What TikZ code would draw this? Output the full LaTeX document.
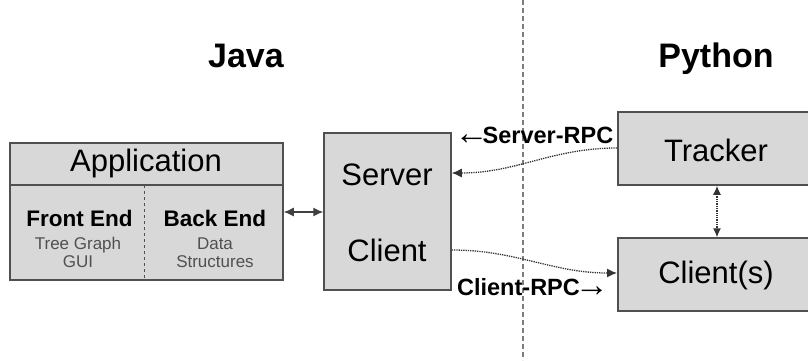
\documentclass[tikz,border=0pt]{standalone}
\usepackage{fontspec}
\setmainfont{Liberation Sans}
\usepackage{xcolor}
\usepackage{tikz}
\usetikzlibrary{arrows.meta}
\definecolor{boxfill}{RGB}{216,216,216}
\definecolor{boxline}{RGB}{80,80,80}
\definecolor{subtext}{RGB}{80,80,80}
\definecolor{divider}{RGB}{125,125,125}
\newcommand{\bigarrow}[1]{{\mdseries\fontsize{34}{34}\selectfont\raisebox{-1pt}{#1}}}

\begin{document}
\begin{tikzpicture}[x=1pt,y=1pt,
    box/.style={draw=boxline,fill=boxfill,line width=1.5pt,inner sep=0pt},
    bigtext/.style={font=\fontsize{31}{34}\selectfont},
    boldtext/.style={font=\bfseries\fontsize{22.5}{26}\selectfont},
    smalltext/.style={font=\fontsize{17}{19}\selectfont,text=subtext},
    rpctext/.style={font=\bfseries\fontsize{23.5}{26}\selectfont},
    titletext/.style={font=\bfseries\fontsize{34}{38}\selectfont,anchor=base},
    tip/.style={-{Latex[length=10pt,width=9pt]}},
    rpc/.style={densely dotted,line width=1.3pt,draw=black!80}]
		\tikzstyle{every node}+=[inner sep=0pt]
		\clip (0,0) rectangle (808,-360);
		\draw [divider,line width=1.4pt,dash pattern=on 5pt off 3pt] (523,0) -- (523,-360);
		\node [titletext] (java) at (246,-67) {Java};
		\node [titletext] (python) at (716,-67) {Python};
		\node [box,minimum width=273pt,minimum height=137pt] (app) at (146.5,-211.5) {};
		\draw [boxline,line width=1.5pt] (10,-185) -- (283,-185);
		\draw [boxline,line width=1pt,dashed] (144,-185) -- (144,-280);
		\node [bigtext] (apptitle) at (146,-163) {Application};
		\node [boldtext] (front) at (79.5,-218) {Front End};
		\node [smalltext] (frontsub) at (78,-255) {\begin{tabular}{@{}c@{}}Tree Graph\\[-1pt]GUI\end{tabular}};
		\node [boldtext] (back) at (215,-218) {Back End};
		\node [smalltext] (backsub) at (215,-255) {\begin{tabular}{@{}c@{}}Data\\[-1pt]Structures\end{tabular}};
		\node [box,minimum width=127pt,minimum height=157pt] (srv) at (387.5,-211.5) {};
		\node [bigtext] (srvtop) at (387,-175) {Server};
		\node [bigtext] (srvbot) at (387,-250) {Client};
		\node [box,minimum width=200pt,minimum height=73pt,anchor=west] (trk) at (617,-148.5) {};
		\node [bigtext] (trktext) at (716,-150) {Tracker};
		\node [box,minimum width=200pt,minimum height=73pt,anchor=west] (cli) at (617,-274.5) {};
		\node [bigtext] (clitext) at (716,-275) {Client(s)};
		\draw [{Latex[length=10pt,width=9pt]}-{Latex[length=10pt,width=9pt]},line width=1.3pt,black!75] (app.east |- 0,-212) -- (srv.west |- 0,-212);
		\draw [rpc,tip] (trk.west |- 0,-148) to [out=180,in=0] (srv.east |- 0,-173);
		\node [rpctext] (srvrpc) at (534,-136) {\bigarrow{←}\kern-6pt Server-RPC};
		\draw [rpc,tip] (srv.east |- 0,-250) to [out=0,in=180] (cli.west |- 0,-273);
		\node [rpctext] (clirpc) at (533,-287) {Client-RPC\kern-5pt\bigarrow{→}};
		\draw [rpc,{Latex[length=9pt,width=8pt]}-{Latex[length=9pt,width=8pt]}] (trk.south -| 717,0) -- (cli.north -| 717,0);
\end{tikzpicture}
\end{document}
